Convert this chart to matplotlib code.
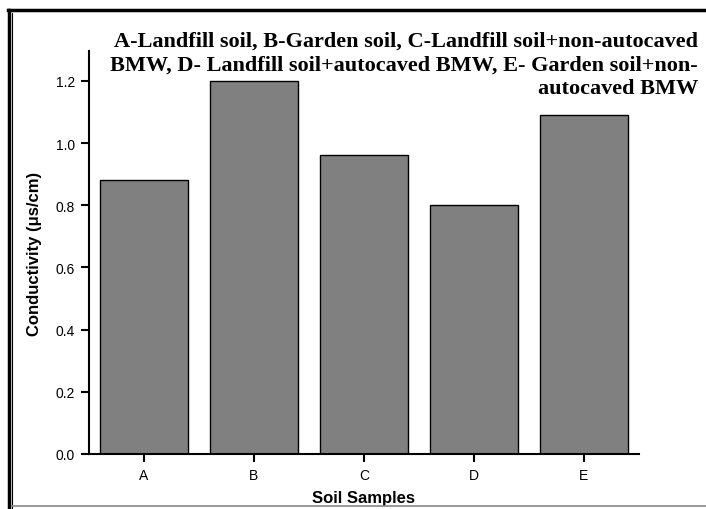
import matplotlib
matplotlib.use("Agg")
import matplotlib.pyplot as plt
from matplotlib.lines import Line2D

categories = ["A", "B", "C", "D", "E"]
values = [0.88, 1.20, 0.96, 0.80, 1.09]
yticks = [0.0, 0.2, 0.4, 0.6, 0.8, 1.0, 1.2]
title = ("A-Landfill soil, B-Garden soil, C-Landfill soil+non-autocaved\n"
         "BMW, D- Landfill soil+autocaved BMW, E- Garden soil+non-\n"
         "autocaved BMW")

W, H = 706, 510
fig = plt.figure(figsize=(W/100, H/100), dpi=100)
ax = fig.add_axes([89/W, 1-455/H, (639-89)/W, (455-52)/H])

x = range(len(categories))
ax.bar(x, values, width=0.8, color="#808080", edgecolor="black", linewidth=1.0)
ax.set_xlim(-0.5, 4.5)
ax.set_ylim(0, 1.296)
ax.set_xticks(list(x))
ax.set_xticklabels(categories, family="Liberation Sans", fontsize=10)
ax.set_yticks(yticks)
ax.set_yticklabels([f"{v:.1f}" for v in yticks], family="Liberation Sans", fontsize=10)
for s in ["top", "right"]:
    ax.spines[s].set_visible(False)
for s in ["left", "bottom"]:
    ax.spines[s].set_linewidth(1.5)
ax.tick_params(direction="out", length=6, width=1.5, pad=4)
ax.set_xlabel("Soil Samples", family="Liberation Sans", fontweight="bold", fontsize=12, labelpad=6)
ax.set_ylabel("Conductivity (μs/cm)", family="Liberation Sans", fontweight="bold", fontsize=12, labelpad=10)

fig.text(698/W, 1-32/H, title, ha="right", va="top", family="Liberation Serif",
         fontweight="bold", fontsize=16, linespacing=1.22)

# figure border
fig.add_artist(Line2D([9/W, 9/W], [0, 1-11/H], color="black", lw=2.5, transform=fig.transFigure))
fig.add_artist(Line2D([12/W, 12/W], [0, 1-14/H], color="black", lw=0.8, transform=fig.transFigure))
fig.add_artist(Line2D([8/W, 1], [1-11/H, 1-11/H], color="black", lw=2.5, transform=fig.transFigure))
fig.add_artist(Line2D([12/W, 1], [1-507/H, 1-507/H], color="#888888", lw=1.2, transform=fig.transFigure))

fig.savefig("out.png", dpi=100)
